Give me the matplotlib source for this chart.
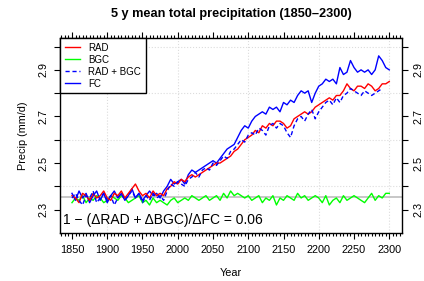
import numpy as np
import matplotlib
matplotlib.use("Agg")
import matplotlib.pyplot as plt
from matplotlib.ticker import MultipleLocator, FixedLocator

plt.rcParams['font.family'] = ['Liberation Sans', 'DejaVu Sans']

years = np.arange(1850, 2301, 5)

# FC (fully coupled)
fc = [2.37, 2.34, 2.38, 2.35, 2.37, 2.33, 2.36, 2.38, 2.34, 2.37,
      2.33, 2.36, 2.38, 2.35, 2.37, 2.34, 2.36, 2.39, 2.35, 2.37,
      2.34, 2.36, 2.38, 2.36, 2.37, 2.35, 2.38,
      2.40, 2.43, 2.41, 2.42, 2.43, 2.41, 2.45, 2.47, 2.46, 2.47,
      2.48, 2.49, 2.50, 2.51, 2.50, 2.52, 2.54, 2.56, 2.57, 2.58,
      2.61, 2.64, 2.66, 2.65, 2.68, 2.70, 2.71, 2.72, 2.71, 2.74,
      2.73, 2.74, 2.72, 2.76, 2.75, 2.77, 2.76, 2.79, 2.81, 2.80,
      2.81, 2.76, 2.80, 2.83, 2.84, 2.86, 2.85, 2.86, 2.84, 2.91,
      2.88, 2.89, 2.94, 2.91, 2.89, 2.90, 2.89, 2.90, 2.88, 2.90,
      2.96, 2.94, 2.91, 2.90]

rad = [2.36, 2.35, 2.33, 2.37, 2.36, 2.34, 2.37, 2.35, 2.36, 2.38,
       2.35, 2.34, 2.37, 2.36, 2.38, 2.35, 2.37, 2.39, 2.41, 2.38,
       2.36, 2.37, 2.35, 2.38, 2.36, 2.37, 2.36,
       2.39, 2.40, 2.42, 2.41, 2.43, 2.42, 2.44, 2.45, 2.44, 2.45,
       2.46, 2.47, 2.48, 2.49, 2.50, 2.50, 2.51, 2.52, 2.53, 2.55,
       2.56, 2.58, 2.60, 2.61, 2.62, 2.64, 2.63, 2.66, 2.65, 2.67,
       2.66, 2.68, 2.68, 2.67, 2.65, 2.66, 2.69, 2.70, 2.71, 2.72,
       2.71, 2.72, 2.74, 2.75, 2.76, 2.77, 2.78, 2.77, 2.79, 2.79,
       2.81, 2.84, 2.82, 2.81, 2.83, 2.83, 2.82, 2.84, 2.83, 2.81,
       2.82, 2.84, 2.84, 2.85]

rad_bgc = [2.35, 2.37, 2.34, 2.32, 2.36, 2.35, 2.38, 2.33, 2.35, 2.37,
           2.34, 2.36, 2.32, 2.35, 2.37, 2.34, 2.36, 2.38, 2.35, 2.37,
           2.33, 2.36, 2.34, 2.37, 2.35, 2.36, 2.34,
           2.38, 2.41, 2.40, 2.42, 2.41, 2.40, 2.43, 2.44, 2.46, 2.44,
           2.47, 2.48, 2.47, 2.50, 2.49, 2.51, 2.53, 2.52, 2.55, 2.56,
           2.58, 2.60, 2.59, 2.62, 2.63, 2.62, 2.65, 2.64, 2.62, 2.66,
           2.67, 2.65, 2.67, 2.66, 2.63, 2.61, 2.66, 2.69, 2.70, 2.68,
           2.71, 2.73, 2.69, 2.72, 2.74, 2.76, 2.77, 2.75, 2.78, 2.76,
           2.79, 2.80, 2.82, 2.81, 2.80, 2.79, 2.81, 2.80, 2.79, 2.80,
           2.81, 2.82, np.nan, np.nan]

bgc = [2.33, 2.35, 2.34, 2.36, 2.33, 2.35, 2.34, 2.36, 2.35, 2.33,
       2.34, 2.36, 2.35, 2.34, 2.36, 2.35, 2.33, 2.34, 2.35, 2.36,
       2.33, 2.34, 2.32, 2.35, 2.33, 2.34, 2.33,
       2.32, 2.34, 2.35, 2.33, 2.34, 2.35, 2.34, 2.36, 2.35, 2.34,
       2.35, 2.36, 2.34, 2.35, 2.36, 2.34, 2.37, 2.35, 2.38, 2.36,
       2.37, 2.36, 2.35, 2.36, 2.34, 2.35, 2.36, 2.33, 2.35, 2.34,
       2.36, 2.32, 2.35, 2.34, 2.36, 2.35, 2.34, 2.37, 2.35, 2.36,
       2.34, 2.35, 2.36, 2.35, 2.33, 2.36, 2.32, 2.34, 2.35, 2.33,
       2.36, 2.34, 2.35, 2.36, 2.35, 2.34, 2.33, 2.35, 2.37, 2.34,
       2.36, 2.35, 2.37, 2.37]

baseline = 2.355
ratio_text = "1 \u2212 (\u0394RAD + \u0394BGC)/\u0394FC = 0.06"

fig = plt.figure(figsize=(4.24, 2.81), dpi=100)
ax = fig.add_axes([0.1415, 0.171, 0.8065, 0.694])

ax.set_xlim(1833, 2318)
ax.set_ylim(2.2, 3.037)

# light dotted grid and the baseline mean
for gx in range(1900, 2301, 100):
    ax.axvline(gx, color='#dcdcdc', lw=0.8, ls=':', zorder=0)
for gy in [2.4, 2.6, 2.8, 3.0]:
    ax.axhline(gy, color='#dcdcdc', lw=0.8, ls=':', zorder=0)
ax.axhline(baseline, color='#bdbdbd', lw=1.2, zorder=1)

lw = 1.0
ax.plot(years, bgc, color='#00ff00', lw=lw, label='BGC', zorder=2)
ax.plot(years, fc, color='#0000ff', lw=lw, label='FC', zorder=3)
ax.plot(years, rad, color='#ff0000', lw=lw, label='RAD', zorder=4)
ax.plot(years, rad_bgc, color='#0000ff', lw=lw, ls=(0, (3, 2)), label='RAD + BGC', zorder=5)

ax.text(1837, 2.255, ratio_text, fontsize=10, va='center', ha='left')

# ticks, R style
ax.xaxis.set_major_locator(MultipleLocator(50))
ax.xaxis.set_minor_locator(MultipleLocator(5))
ax.yaxis.set_major_locator(FixedLocator([2.3, 2.4, 2.5, 2.6, 2.7, 2.8, 2.9, 3.0]))
ax.set_yticklabels(['2.3', '', '2.5', '', '2.7', '', '2.9', ''])
ax.tick_params(axis='both', which='both', direction='out', top=True, right=True,
               labelright=True, labelsize=7.8, width=0.8, color='black')
ax.tick_params(axis='x', which='major', length=4, pad=5)
ax.tick_params(axis='x', which='minor', length=2.5)
ax.tick_params(axis='y', which='major', length=4, pad=4)
for t in ax.yaxis.get_major_ticks():
    t.label1.set_rotation(90)
    t.label1.set_va('center')
    t.label2.set_rotation(90)
    t.label2.set_va('center')

for s in ax.spines.values():
    s.set_linewidth(1.0)

ax.set_xlabel('Year', fontsize=7.8, labelpad=9)
ax.set_ylabel('Precip (mm/d)', fontsize=7.8, labelpad=8)
ax.set_title('5 y mean total precipitation (1850\u20132300)', fontsize=9.2,
             fontweight='bold', pad=15)

handles, labels = ax.get_legend_handles_labels()
order = ['RAD', 'BGC', 'RAD + BGC', 'FC']
hmap = dict(zip(labels, handles))
leg = ax.legend([hmap[k] for k in order], order, loc='upper left', fontsize=7.0,
                frameon=True, fancybox=False, borderaxespad=0, handlelength=1.6,
                handletextpad=0.8, labelspacing=0.2, borderpad=0.5)
leg.get_frame().set_edgecolor('black')
leg.get_frame().set_linewidth(1.0)
leg.get_frame().set_alpha(1)
leg.set_zorder(10)

fig.savefig('out.png', dpi=100)
